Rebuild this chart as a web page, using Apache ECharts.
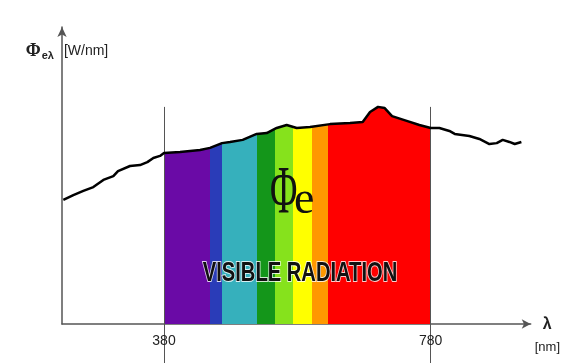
<!DOCTYPE html>
<html>
<head>
<meta charset="utf-8">
<script src="https://cdn.jsdelivr.net/npm/echarts@6/dist/echarts.min.js"></script>
<style>
html,body{margin:0;padding:0;background:#fff;}
#chart{width:563px;height:363px;}
</style>
</head>
<body>
<div id="chart"></div>
<script>
// ---- data ----
const wavelengths = [229,244,259,274,289,304,311,329,344,355,364,374,380,404,434,449,467,479,498,519,534,549,564,579,599,629,659,678,689,701,711,722,744,763,780,793,808,816,838,853,868,879,888,898,906,916];
const power       = [41.8,43.4,44.8,46.1,48.5,49.8,51.5,53.2,53.5,54.5,55.9,56.6,57.6,57.9,58.6,59.3,60.9,61.3,62.0,64.0,64.3,66.0,67.0,66.0,66.3,67.3,67.7,68.0,71.4,73.1,72.7,70.0,68.4,67.0,66.0,66.0,65.0,64.0,63.3,62.3,60.6,60.9,62.0,61.3,60.6,61.3];
const visibleRange = [380, 780];
const tickValues = [380, 780];
const refLineTop = 73.1;
const bandEdges  = [449, 467, 519, 546, 573, 602, 626];
const bandColors = ['#6a0aa6', '#2a3cb8', '#36b0bc', '#14961a', '#86e21c', '#ffff00', '#ff9800', '#ff0000'];
const xRange = [227, 930];
const yRange = [0, 100];

// ---- build ----
const curve = wavelengths.map((w, i) => [w, power[i]]);
const visible = curve.filter(p => p[0] >= visibleRange[0] && p[0] <= visibleRange[1]);
const pieces = bandColors.map((c, i) => {
  const p = { color: c };
  if (i > 0) p.gte = bandEdges[i - 1];
  if (i < bandEdges.length) p.lt = bandEdges[i];
  return p;
});

const chart = echarts.init(document.getElementById('chart'), null, { renderer: 'canvas' });
const sans = "'Liberation Sans',Arial,sans-serif";
const serif = "'Liberation Serif','Times New Roman',serif";
chart.setOption({
  animation: false,
  backgroundColor: '#fff',
  grid: { left: 62, right: 32, top: 27, bottom: 39, containLabel: false },
  xAxis: {
    type: 'value', min: xRange[0], max: xRange[1],
    name: '{l|λ}\n{u|[nm]}',
    nameLocation: 'end', nameGap: 4,
    nameTextStyle: {
      verticalAlign: 'top', align: 'left',
      rich: {
        l: { fontFamily: sans, fontSize: 16, fontWeight: 'bold', color: '#222', lineHeight: 2, padding: [0, 0, 0, 8] },
        u: { fontFamily: sans, fontSize: 13, color: '#222', lineHeight: 42 }
      }
    },
    axisLine: { show: true, symbol: ['none', 'arrow'], symbolSize: [7, 9], lineStyle: { color: '#555', width: 1.5 } },
    axisTick: { show: true, customValues: tickValues, length: 39, lineStyle: { color: '#555', width: 1 } },
    axisLabel: { customValues: tickValues, margin: 10, fontFamily: sans, fontSize: 14, color: '#222' },
    splitLine: { show: false }
  },
  yAxis: {
    type: 'value', min: yRange[0], max: yRange[1],
    name: '{phi|Φ}{sub|eλ}{unit|[W/nm]}',
    nameLocation: 'end', nameGap: -34,
    nameTextStyle: {
      padding: [0, 0, 0, 10],
      rich: {
        phi: { fontFamily: serif, fontSize: 18, fontWeight: 'bold', color: '#222' },
        sub: { fontFamily: sans, fontSize: 11, fontWeight: 'bold', color: '#222', padding: [8, 0, 0, 1] },
        unit: { fontFamily: sans, fontSize: 14, color: '#222', padding: [0, 0, 0, 10] }
      }
    },
    axisLine: { show: true, symbol: ['none', 'arrow'], symbolSize: [7, 10], lineStyle: { color: '#555', width: 1.5 } },
    axisTick: { show: false },
    axisLabel: { show: false },
    splitLine: { show: false }
  },
  visualMap: {
    show: false, type: 'piecewise', dimension: 0, seriesIndex: 0, pieces: pieces
  },
  series: [
    {
      type: 'line', data: visible, symbol: 'none', silent: true, z: 2,
      lineStyle: { width: 0 },
      areaStyle: { opacity: 1 },
      markLine: {
        silent: true, symbol: 'none', label: { show: false },
        lineStyle: { color: '#555', width: 1, type: 'solid' },
        data: tickValues.map(v => [{ coord: [v, refLineTop] }, { coord: [v, 0] }])
      }
    },
    {
      type: 'line', data: curve, symbol: 'none', silent: true, z: 5,
      lineStyle: { color: '#000', width: 2.5 }
    }
  ],
  graphic: [
    { type: 'text', x: 270, y: 228, scaleX: 0.55, style: { text: 'Φ', fontFamily: serif, fontSize: 68, fill: '#111', textVerticalAlign: 'bottom' }, z: 10 },
    { type: 'text', x: 294, y: 224, style: { text: 'e', fontFamily: serif, fontSize: 46, fill: '#111', textVerticalAlign: 'bottom' }, z: 10 },
    { type: 'text', x: 300, y: 273, scaleX: 0.72, style: { text: 'VISIBLE RADIATION', fontFamily: sans, fontSize: 28, fontWeight: 'bold', fill: '#111', stroke: 'rgba(255,255,255,0.8)', lineWidth: 2, textAlign: 'center', textVerticalAlign: 'middle' }, z: 10 }
  ]
});
</script>
</body>
</html>
